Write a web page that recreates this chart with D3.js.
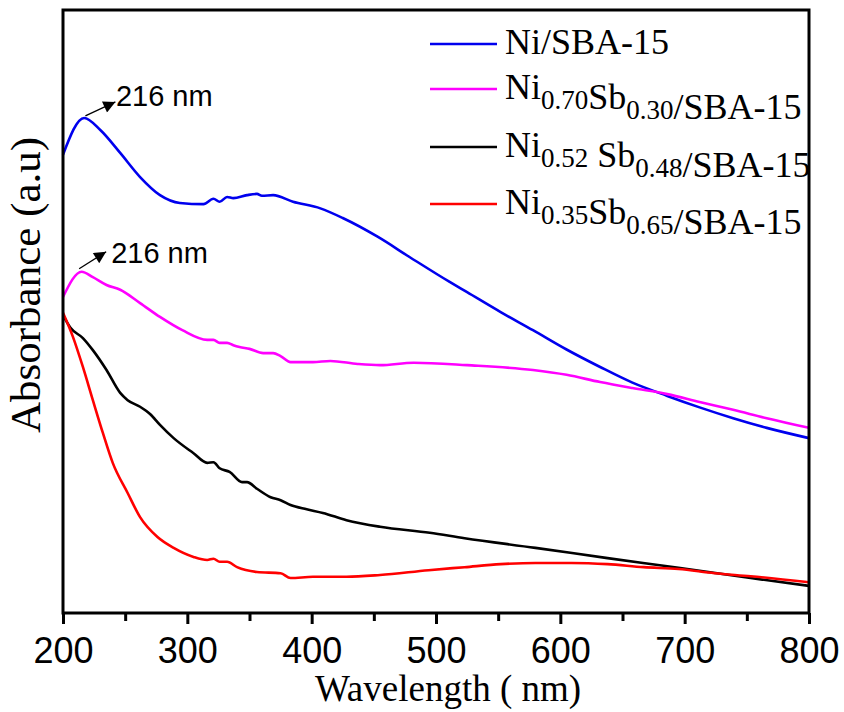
<!DOCTYPE html>
<html><head><meta charset="utf-8">
<script src="https://cdn.jsdelivr.net/npm/d3@7"></script>
<style>body{margin:0;background:#fff}svg{display:block}</style>
</head><body>
<svg id="c" width="844" height="712"></svg>
<script>
// wavelength (nm), absorbance (a.u., arbitrary)
const niSBA = [[200,0.760],[217,0.821],[230,0.801],[246,0.763],[262,0.723],[278,0.693],[294,0.680],[313,0.678],[321,0.687],[326,0.682],[332,0.690],[337,0.688],[348,0.693],[356,0.695],[360,0.692],[369,0.693],[385,0.682],[407,0.671],[425,0.655],[453,0.624],[479,0.590],[511,0.549],[525,0.532],[552,0.499],[578,0.469],[605,0.437],[632,0.408],[658,0.382],[686,0.360],[712,0.341],[739,0.323],[766,0.307],[800,0.290]];
const ni70 = [[200,0.524],[215,0.566],[224,0.557],[235,0.544],[246,0.536],[262,0.514],[278,0.491],[296,0.469],[316,0.453],[321,0.453],[326,0.448],[332,0.448],[337,0.444],[342,0.441],[350,0.438],[361,0.431],[369,0.431],[375,0.426],[383,0.416],[401,0.416],[415,0.418],[437,0.413],[455,0.411],[482,0.415],[525,0.411],[578,0.403],[605,0.395],[632,0.383],[658,0.373],[686,0.363],[712,0.350],[739,0.337],[766,0.323],[800,0.307]];
const ni52 = [[200,0.494],[206,0.473],[216,0.456],[224,0.436],[235,0.403],[246,0.365],[252,0.353],[262,0.342],[270,0.330],[278,0.312],[289,0.290],[305,0.265],[316,0.249],[321,0.250],[326,0.240],[334,0.234],[344,0.217],[348,0.217],[356,0.206],[367,0.192],[375,0.187],[383,0.179],[396,0.172],[409,0.166],[428,0.154],[455,0.143],[495,0.133],[523,0.124],[580,0.108],[638,0.091],[695,0.075],[753,0.058],[800,0.045]];
const ni35 = [[200,0.498],[208,0.458],[216,0.408],[224,0.353],[232,0.299],[240,0.249],[252,0.199],[262,0.159],[276,0.126],[289,0.108],[305,0.093],[316,0.088],[321,0.090],[326,0.085],[332,0.085],[340,0.076],[356,0.068],[375,0.066],[383,0.058],[401,0.060],[428,0.060],[455,0.063],[494,0.071],[523,0.076],[552,0.081],[580,0.083],[609,0.083],[638,0.081],[667,0.076],[695,0.073],[724,0.066],[753,0.061],[800,0.051]];
const xTicks = [200,300,400,500,600,700,800];
const xMinor = [250,350,450,550,650,750];
const seriesNames = [
  [["Ni/SBA-15",""]],
  [["Ni","0.70"],["Sb","0.30"],["/SBA-15",""]],
  [["Ni","0.52"],[" Sb","0.48"],["/SBA-15",""]],
  [["Ni","0.35"],["Sb","0.65"],["/SBA-15",""]]
];
const colors = ["#0000ee","#ff00ff","#000000","#ff0000"];
const seriesData = [niSBA, ni70, ni52, ni35];
const peakLabel = "216 nm";

const svg = d3.select("#c");
const L=63,R=809,T=10,B=613;
const x = d3.scaleLinear().domain([200,800]).range([L,R]);
const y = d3.scaleLinear().domain([0,1]).range([B,T]);

// curves
const line = d3.line().x(d=>x(d[0])).y(d=>y(d[1])).curve(d3.curveMonotoneX);
seriesData.forEach((s,i)=>{
  svg.append("path").attr("d",line(s)).attr("fill","none")
    .attr("stroke",colors[i]).attr("stroke-width",2.6).attr("stroke-linejoin","round");
});

// frame
svg.append("rect").attr("x",L).attr("y",T).attr("width",R-L).attr("height",B-T)
  .attr("fill","none").attr("stroke","#000").attr("stroke-width",3);

// x axis
const ax = svg.append("g").attr("transform",`translate(0,${B})`)
  .call(d3.axisBottom(x).tickValues(xTicks).tickSize(11).tickFormat(d3.format("d")));
ax.select(".domain").remove();
ax.selectAll(".tick line").attr("stroke","#000").attr("stroke-width",3);
ax.selectAll(".tick text").attr("font-family","Liberation Sans, Arial, sans-serif")
  .attr("font-size",36).attr("fill","#000").attr("y",50).attr("dy",0);
const axm = svg.append("g").attr("transform",`translate(0,${B})`)
  .call(d3.axisBottom(x).tickValues(xMinor).tickSize(8).tickFormat(""));
axm.select(".domain").remove();
axm.selectAll(".tick line").attr("stroke","#000").attr("stroke-width",3);

// axis titles
svg.append("text").attr("x",448).attr("y",701).attr("text-anchor","middle")
  .attr("font-family","Liberation Serif, Times New Roman, serif").attr("font-size",37)
  .text("Wavelength ( nm)");
svg.append("text").attr("transform","translate(40,285) rotate(-90)").attr("text-anchor","middle")
  .attr("font-family","Liberation Serif, Times New Roman, serif").attr("font-size",43)
  .text("Absorbance (a.u)");

// legend
const legY = [44,89,147,204];
seriesNames.forEach((s,i)=>{
  svg.append("line").attr("x1",430).attr("x2",497).attr("y1",legY[i]).attr("y2",legY[i])
    .attr("stroke",colors[i]).attr("stroke-width",2.6);
  const t = svg.append("text").attr("x",505).attr("y",legY[i]+10)
    .attr("font-family","Liberation Serif, Times New Roman, serif").attr("font-size",36);
  s.forEach(([m,sub])=>{
    t.append("tspan").text(m);
    if(sub){
      t.append("tspan").attr("font-size",27).attr("dy",10).text(sub);
      t.append("tspan").attr("dy",-10).text("");
    }
  });
});

// annotations
svg.append("defs").append("marker").attr("id","ah").attr("viewBox","0 0 10 10")
  .attr("refX",10).attr("refY",5).attr("markerWidth",16).attr("markerHeight",12)
  .attr("orient","auto").attr("markerUnits","userSpaceOnUse")
  .append("path").attr("d","M0,0L10,5L0,10z").attr("fill","#000");
function annot(px,py,tx,ty,lx,ly){
  svg.append("line").attr("x1",px).attr("y1",py).attr("x2",tx).attr("y2",ty)
    .attr("stroke","#000").attr("stroke-width",1.3).attr("marker-end","url(#ah)");
  svg.append("text").attr("x",lx).attr("y",ly)
    .attr("font-family","Liberation Sans, Arial, sans-serif").attr("font-size",29).text(peakLabel);
}
annot(x(218),y(0.821)-2, x(218)+30, y(0.821)-16, x(216)+33, y(0.821)-12);
annot(x(213),y(0.566)-3, x(213)+27, y(0.566)-20, x(213)+32, y(0.566)-9);
</script>
</body></html>
